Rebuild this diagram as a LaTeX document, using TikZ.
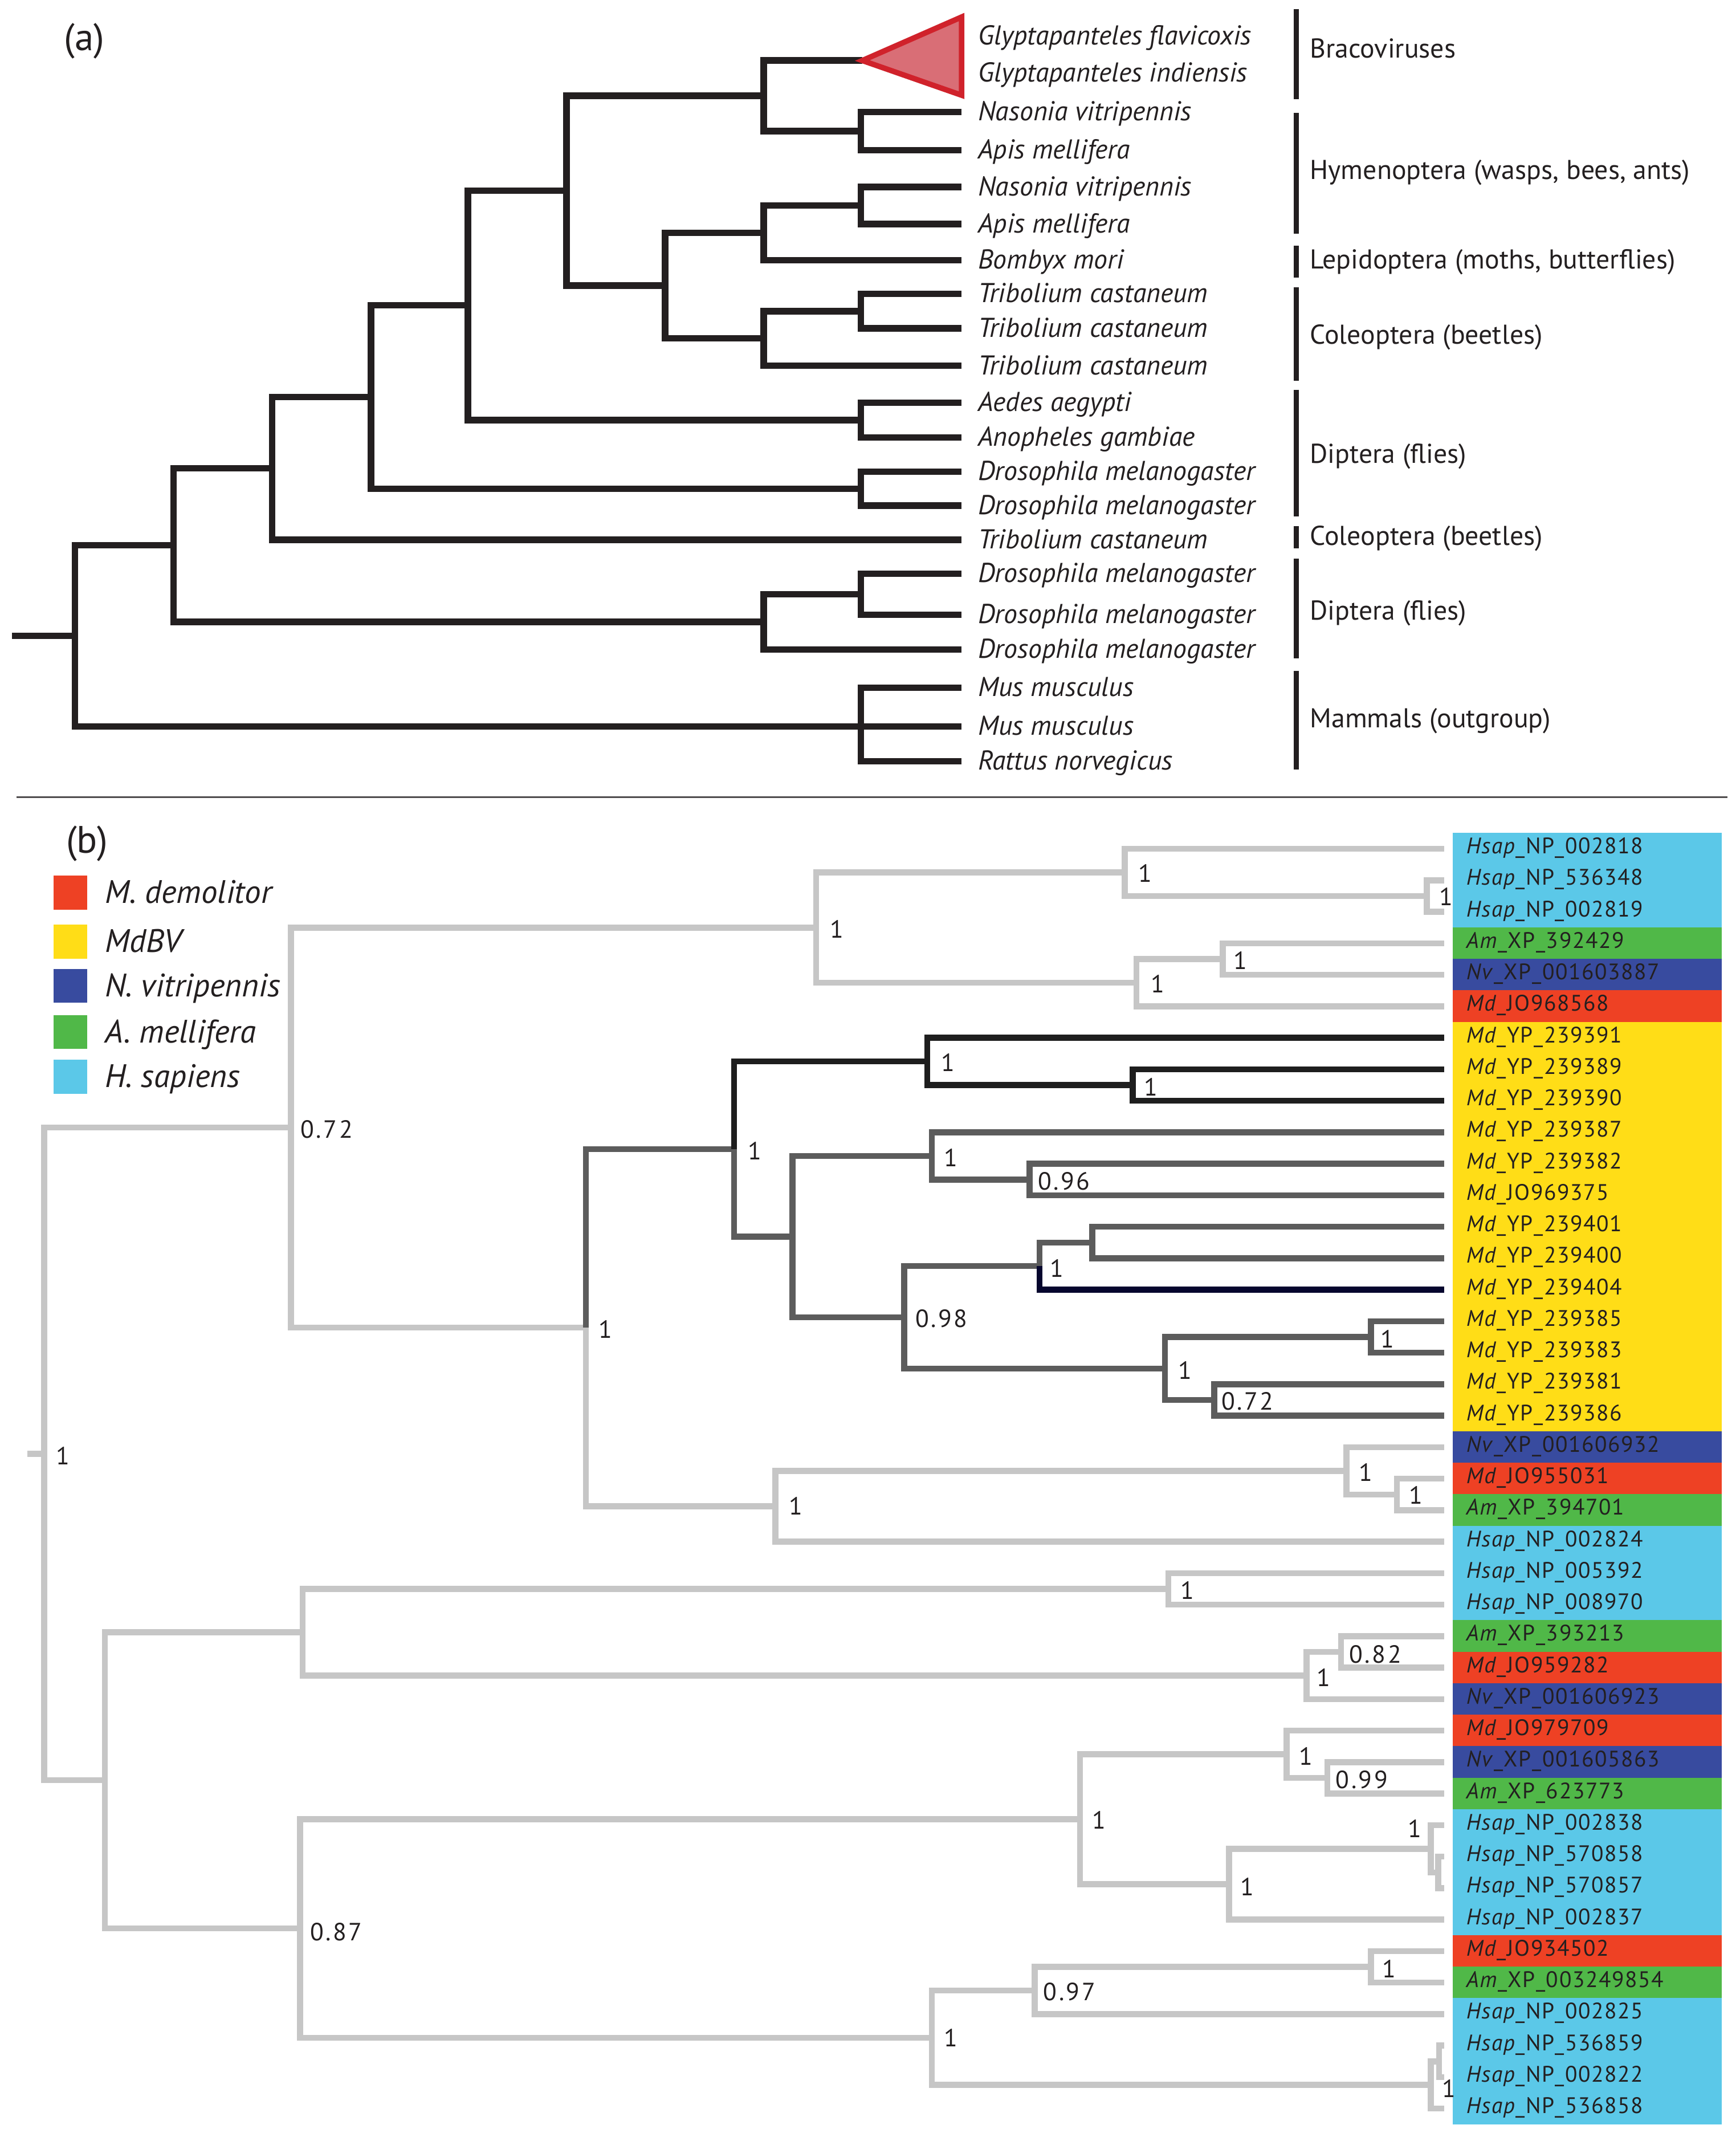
\documentclass[tikz,border=0pt]{standalone}
\usepackage{fontspec}
\setmainfont{PT Sans}
\newfontfamily\numfont[LetterSpace=8]{PT Sans}
\newfontfamily\lblfont[LetterSpace=4]{PT Sans}
\definecolor{inkA}{HTML}{231F20}
\definecolor{lgr}{HTML}{C6C6C6}
\definecolor{dgr}{HTML}{5C5C5C}
\definecolor{blk}{HTML}{1E1E1E}
\definecolor{nvy}{HTML}{06062E}
\definecolor{triS}{HTML}{D0222B}
\definecolor{triF}{HTML}{D96E76}
\definecolor{cC}{HTML}{5BC8E8}
\definecolor{cG}{HTML}{50B848}
\definecolor{cB}{HTML}{384B9F}
\definecolor{cR}{HTML}{EE4124}
\definecolor{cY}{HTML}{FFDD17}
\begin{document}
\begin{tikzpicture}[x=0.05cm,y=-0.05cm,
  brA/.style={draw=inkA,line width=2.4mm},
  triA/.style={draw=triS,fill=triF,line width=2mm,line join=miter},
  barA/.style={draw=inkA,line width=1.8mm},
  spA/.style={anchor=west,inner sep=0pt,yshift=-1.5mm,text=inkA,font=\fontsize{28.5}{32}\selectfont\itshape,text height=1.5ex,text depth=0.4ex},
  grpA/.style={anchor=west,inner sep=0pt,yshift=-1.5mm,text=inkA,font=\fontsize{28.5}{32}\selectfont,text height=1.5ex,text depth=0.4ex},
  panel/.style={inner sep=0pt,text=inkA,font=\fontsize{40}{44}\selectfont},
  sepline/.style={draw=inkA!80,line width=0.7mm},
  gB/.style={draw=lgr,line width=2.2mm},
  dB/.style={draw=dgr,line width=2.2mm},
  kB/.style={draw=blk,line width=2.2mm},
  nB/.style={draw=nvy,line width=2.2mm},
  bs/.style={anchor=west,inner sep=0pt,yshift=-1.5mm,text=inkA,font=\numfont\fontsize{26}{28}\selectfont,text height=1.5ex,text depth=0ex},
  lfB/.style={anchor=west,inner sep=0pt,yshift=-0.8mm,text=inkA,font=\lblfont\fontsize{23.5}{25}\selectfont,text height=1.5ex,text depth=0.4ex},
  lgsq/.style={inner sep=0pt,minimum size=12.4mm,draw=none},
  lgtx/.style={anchor=west,inner sep=0pt,yshift=-3mm,text=inkA,font=\fontsize{34}{36}\selectfont\itshape,text height=1.5ex,text depth=0.4ex}
]
\useasboundingbox (0,0) rectangle (1276,1568);

% ================= panel (a) =================
\node[panel] (pa) at (62,30) {(a)};

\coordinate (tipA) at (634,44.5);
\coordinate (triT) at (707,12.5);
\coordinate (triB) at (707,70);
\node[spA] (ta1) at (719,28) {Glyptapanteles flavicoxis};
\node[spA] (ta2) at (719,55) {Glyptapanteles indiensis};

\foreach \n/\y/\t in {3/82.3/Nasonia vitripennis,4/110.4/Apis mellifera,5/137.5/Nasonia vitripennis,6/164.7/Apis mellifera,7/191.2/Bombyx mori,8/216/Tribolium castaneum,9/241.4/Tribolium castaneum,10/268.9/Tribolium castaneum,11/296.1/Aedes aegypti,12/321.6/Anopheles gambiae,13/346.7/Drosophila melanogaster,14/371.7/Drosophila melanogaster,15/396.8/Tribolium castaneum,16/421.8/Drosophila melanogaster,17/451.9/Drosophila melanogaster,18/477.4/Drosophila melanogaster,19/505.5/Mus musculus,20/534.1/Mus musculus,21/559.6/Rattus norvegicus}{
  \coordinate (a\n) at (707,\y);
  \node[spA] (ta\n) at (719,\y+1.5) {\t};
}

\coordinate (nNA) at (633,96.35);
\coordinate (nA) at (561.5,70.4);
\coordinate (nNA2) at (633,151.1);
\coordinate (nNAB) at (561.5,171.15);
\coordinate (nTT) at (633,228.7);
\coordinate (nTTT) at (561.5,248.8);
\coordinate (nC) at (489,210);
\coordinate (nB) at (416.5,140.2);
\coordinate (nAA) at (633,308.85);
\coordinate (nD) at (344,224.5);
\coordinate (nDD) at (633,359.2);
\coordinate (nE) at (272.7,291.85);
\coordinate (nF) at (200,344.3);
\coordinate (nDp) at (633,436.85);
\coordinate (nDq) at (561.5,457.1);
\coordinate (nG) at (127.6,400.7);
\coordinate (nM) at (633,534.1);
\coordinate (nH) at (55,467.4);
\coordinate (stA) at (9,467.4);

\draw[brA] (stA) -- (nH);
\draw[brA] (nH) |- (nG);   \draw[brA] (nH) |- (nM);
\draw[brA] (nG) |- (nF);   \draw[brA] (nG) |- (nDq);
\draw[brA] (nF) |- (nE);   \draw[brA] (nF) |- (a15);
\draw[brA] (nE) |- (nD);   \draw[brA] (nE) |- (nDD);
\draw[brA] (nD) |- (nB);   \draw[brA] (nD) |- (nAA);
\draw[brA] (nB) |- (nA);   \draw[brA] (nB) |- (nC);
\draw[brA] (nA) |- (tipA); \draw[brA] (nA) |- (nNA);
\draw[brA] (nNA) |- (a3);  \draw[brA] (nNA) |- (a4);
\draw[brA] (nC) |- (nNAB); \draw[brA] (nC) |- (nTTT);
\draw[brA] (nNAB) |- (nNA2); \draw[brA] (nNAB) |- (a7);
\draw[brA] (nNA2) |- (a5); \draw[brA] (nNA2) |- (a6);
\draw[brA] (nTTT) |- (nTT); \draw[brA] (nTTT) |- (a10);
\draw[brA] (nTT) |- (a8);  \draw[brA] (nTT) |- (a9);
\draw[brA] (nAA) |- (a11); \draw[brA] (nAA) |- (a12);
\draw[brA] (nDD) |- (a13); \draw[brA] (nDD) |- (a14);
\draw[brA] (nDq) |- (nDp); \draw[brA] (nDq) |- (a18);
\draw[brA] (nDp) |- (a16); \draw[brA] (nDp) |- (a17);
\draw[brA] (nM) |- (a19);  \draw[brA] (nM) |- (a21); \draw[brA] (nM) -- (a20);

\draw[triA] (tipA) -- (triT) -- (triB) -- cycle;

\foreach \n/\ya/\yb/\yl/\t in {1/6.5/73/37.4/Bracoviruses,2/83/172/127/{Hymenoptera (wasps, bees, ants)},3/180.6/204/192.7/{Lepidoptera (moths, butterflies)},4/211/280/248/Coleoptera (beetles),5/286.5/379.7/335.6/Diptera (flies),6/386.7/403.2/395.7/Coleoptera (beetles),7/410.8/484/450.9/Diptera (flies),8/493/565.5/530.1/Mammals (outgroup)}{
  \coordinate (gt\n) at (953,\ya);
  \coordinate (gb\n) at (953,\yb);
  \draw[barA] (gt\n) -- (gb\n);
  \node[grpA] (gl\n) at (963,\yl) {\t};
}

\coordinate (sepL) at (12,586);
\coordinate (sepR) at (1270,586);
\draw[sepline] (sepL) -- (sepR);

% ================= panel (b) =================
\node[panel] (pb) at (64,620) {(b)};
\foreach \n/\c/\y/\t in {1/cR/656.2/M. demolitor,2/cY/692.2/MdBV,3/cB/724.8/N. vitripennis,4/cG/758.5/A. mellifera,5/cC/791.5/H. sapiens}{
  \node[lgsq,fill=\c] (sq\n) at (51.8,\y) {};
  \node[lgtx] (lt\n) at (77,\y) {\t};
}

% label column backgrounds
\foreach \i/\c/\p/\r in {1/cC/Hsap/NP\_002818,2/cC/Hsap/NP\_536348,3/cC/Hsap/NP\_002819,4/cG/Am/XP\_392429,5/cB/Nv/XP\_001603887,6/cR/Md/JO968568,7/cY/Md/YP\_239391,8/cY/Md/YP\_239389,9/cY/Md/YP\_239390,10/cY/Md/YP\_239387,11/cY/Md/YP\_239382,12/cY/Md/JO969375,13/cY/Md/YP\_239401,14/cY/Md/YP\_239400,15/cY/Md/YP\_239404,16/cY/Md/YP\_239385,17/cY/Md/YP\_239383,18/cY/Md/YP\_239381,19/cY/Md/YP\_239386,20/cB/Nv/XP\_001606932,21/cR/Md/JO955031,22/cG/Am/XP\_394701,23/cC/Hsap/NP\_002824,24/cC/Hsap/NP\_005392,25/cC/Hsap/NP\_008970,26/cG/Am/XP\_393213,27/cR/Md/JO959282,28/cB/Nv/XP\_001606923,29/cR/Md/JO979709,30/cB/Nv/XP\_001605863,31/cG/Am/XP\_623773,32/cC/Hsap/NP\_002838,33/cC/Hsap/NP\_570858,34/cC/Hsap/NP\_570857,35/cC/Hsap/NP\_002837,36/cR/Md/JO934502,37/cG/Am/XP\_003249854,38/cC/Hsap/NP\_002825,39/cC/Hsap/NP\_536859,40/cC/Hsap/NP\_002822,41/cC/Hsap/NP\_536858}{
  \fill[\c] (1068,{624+23.15*(\i-1)-11.7}) rectangle (1266,{624+23.15*(\i-1)+11.7});
  \coordinate (r\i) at (1062,{624+23.15*(\i-1)});
  \node[lfB] (lb\i) at (1078,{624+23.15*(\i-1)}) {\textit{\p}\_\r};
}

% internal nodes (b)
\coordinate (b23) at (1049,658.7);
\coordinate (na) at (827,641.4);
\coordinate (nd) at (899,705);
\coordinate (nc) at (835.6,722.4);
\coordinate (nb) at (600,681.9);
\coordinate (m4) at (832.8,797.6);
\coordinate (m3) at (681.8,780.25);
\coordinate (m7) at (757,867.1);
\coordinate (m6) at (685,849.7);
\coordinate (m10) at (803,913.4);
\coordinate (m9) at (764.4,930.75);
\coordinate (m12) at (1008,982.8);
\coordinate (m13) at (892.7,1029.1);
\coordinate (m11) at (856.4,1006);
\coordinate (m8) at (664.7,968.4);
\coordinate (m5) at (582.6,909.05);
\coordinate (m2) at (539.8,844.65);
\coordinate (m16) at (1027,1098.6);
\coordinate (m15) at (990,1081.2);
\coordinate (m14) at (570,1107.25);
\coordinate (m1) at (430.7,975.95);
\coordinate (n072) at (214,828.9);
\coordinate (L3) at (859,1168);
\coordinate (L5) at (986,1214.3);
\coordinate (L4) at (960.6,1231.7);
\coordinate (L2) at (222.6,1199.85);
\coordinate (L9) at (976,1306.9);
\coordinate (L8) at (946,1289.55);
\coordinate (Y) at (1057.5,1376.4);
\coordinate (X) at (1052,1359);
\coordinate (L10) at (903.7,1385);
\coordinate (L7) at (794,1337.3);
\coordinate (L14) at (1008,1445.8);
\coordinate (L13) at (760.7,1463.2);
\coordinate (W) at (1058,1515.3);
\coordinate (L15) at (1052,1532.6);
\coordinate (L12) at (685.2,1497.9);
\coordinate (L6) at (220.6,1417.6);
\coordinate (L1) at (77,1308.7);
\coordinate (rtB) at (32.5,1068.8);
\coordinate (stB) at (20,1068.8);

% light grey branches
\draw[gB] (stB) -- (rtB);
\draw[gB] (rtB) |- (n072); \draw[gB] (rtB) |- (L1);
\draw[gB] (n072) |- (nb);  \draw[gB] (n072) |- (m1);
\draw[gB] (nb) |- (na);    \draw[gB] (nb) |- (nc);
\draw[gB] (na) |- (r1);    \draw[gB] (na) |- (b23);
\draw[gB] (b23) |- (r2);   \draw[gB] (b23) |- (r3);
\draw[gB] (nc) |- (nd);    \draw[gB] (nc) |- (r6);
\draw[gB] (nd) |- (r4);    \draw[gB] (nd) |- (r5);
\draw[gB] (m1) |- (m14);
\draw[gB] (m14) |- (m15);  \draw[gB] (m14) |- (r23);
\draw[gB] (m15) |- (r20);  \draw[gB] (m15) |- (m16);
\draw[gB] (m16) |- (r21);  \draw[gB] (m16) |- (r22);
\draw[gB] (L1) |- (L2);    \draw[gB] (L1) |- (L6);
\draw[gB] (L2) |- (L3);    \draw[gB] (L2) |- (L4);
\draw[gB] (L3) |- (r24);   \draw[gB] (L3) |- (r25);
\draw[gB] (L4) |- (L5);    \draw[gB] (L4) |- (r28);
\draw[gB] (L5) |- (r26);   \draw[gB] (L5) |- (r27);
\draw[gB] (L6) |- (L7);    \draw[gB] (L6) |- (L12);
\draw[gB] (L7) |- (L8);    \draw[gB] (L7) |- (L10);
\draw[gB] (L8) |- (r29);   \draw[gB] (L8) |- (L9);
\draw[gB] (L9) |- (r30);   \draw[gB] (L9) |- (r31);
\draw[gB] (L10) |- (X);    \draw[gB] (L10) |- (r35);
\draw[gB] (X) |- (r32);    \draw[gB] (X) |- (Y);
\draw[gB] (Y) |- (r33);    \draw[gB] (Y) |- (r34);
\draw[gB] (L12) |- (L13);  \draw[gB] (L12) |- (L15);
\draw[gB] (L13) |- (L14);  \draw[gB] (L13) |- (r38);
\draw[gB] (L14) |- (r36);  \draw[gB] (L14) |- (r37);
\draw[gB] (L15) |- (W);    \draw[gB] (L15) |- (r41);
\draw[gB] (W) |- (r39);    \draw[gB] (W) |- (r40);
% dark grey branches
\draw[dB] (m1) |- (m2);
\draw[dB] (m2) |- (m5);
\draw[dB] (m5) |- (m6);    \draw[dB] (m5) |- (m8);
\draw[dB] (m6) |- (r10);   \draw[dB] (m6) |- (m7);
\draw[dB] (m7) |- (r11);   \draw[dB] (m7) |- (r12);
\draw[dB] (m8) |- (m9);    \draw[dB] (m8) |- (m11);
\draw[dB] (m9) |- (m10);
\draw[dB] (m10) |- (r13);  \draw[dB] (m10) |- (r14);
\draw[dB] (m11) |- (m12);  \draw[dB] (m11) |- (m13);
\draw[dB] (m12) |- (r16);  \draw[dB] (m12) |- (r17);
\draw[dB] (m13) |- (r18);  \draw[dB] (m13) |- (r19);
% black and navy branches
\draw[kB] (m2) |- (m3);
\draw[kB] (m3) |- (r7);    \draw[kB] (m3) |- (m4);
\draw[kB] (m4) |- (r8);    \draw[kB] (m4) |- (r9);
\draw[nB] (m9) |- (r15);

% support values
\foreach \n/\x/\y/\v in {s1/1058/660/1,s2/837/643/1,s3/907/707/1,s4/846/724/1,s5/610/684/1,s6/841/800/1,s7/692/782/1,s8/763/869/0.96,s9/694/852/1,s10/772/933/1,s11/1015/985/1,s12/898/1031/0.72,s13/866/1008/1,s14/673/970/0.98,s15/550/847/1,s16/1036/1100/1,s17/999/1083/1,s18/580/1108/1,s19/440/978/1,s20/221/831/0.72,s21/868/1170/1,s22/992/1217/0.82,s23/968/1234/1,s24/982/1309/0.99,s25/955/1292/1,s26/1035/1345/1,s27/912/1388/1,s28/803/1339/1,s29/1016/1448/1,s30/767/1465/0.97,s31/1060/1536/1,s32/694/1499/1,s33/228/1421/0.87,s34/41/1071/1}{
  \node[bs] (\n) at (\x,\y) {\v};
}
\end{tikzpicture}
\end{document}
